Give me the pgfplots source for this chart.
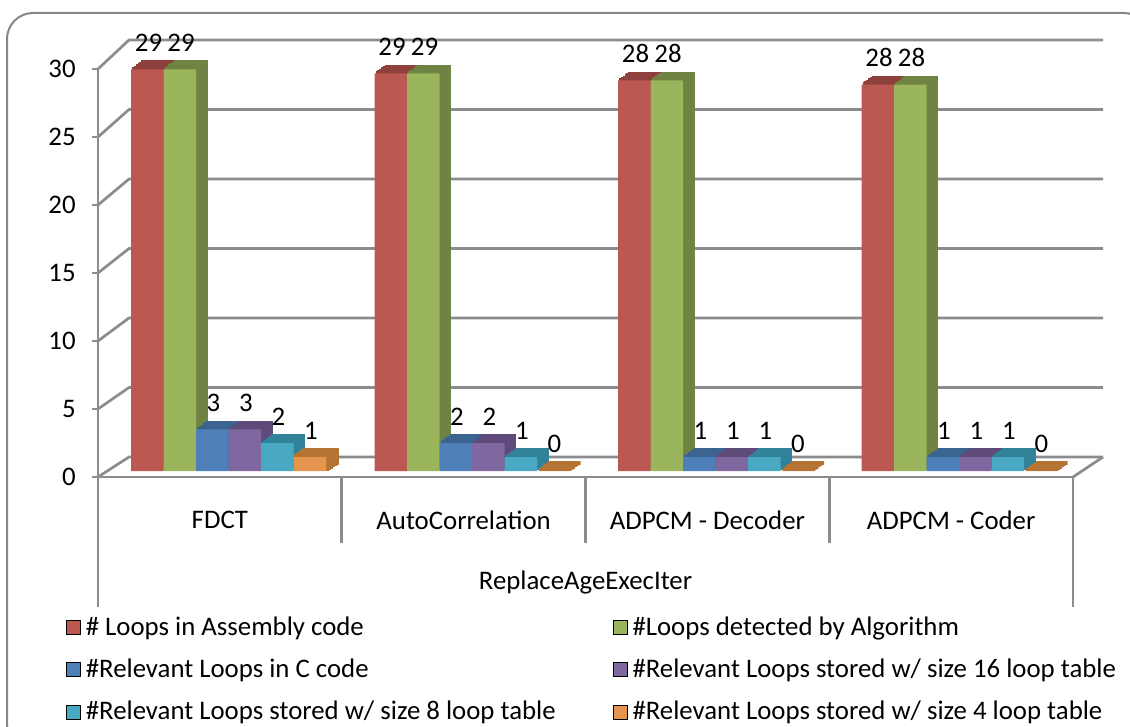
\documentclass[border=0pt]{standalone}
\usepackage{pgfplots}
\pgfplotsset{compat=1.18}
\usepackage{pgfplotstable}
\usepackage{fontspec}
\setmainfont{Carlito}
\definecolor{gridc}{RGB}{140,140,140}
\definecolor{borderc}{RGB}{134,134,134}
\definecolor{cRed}{HTML}{BC5852}
\definecolor{cRedD}{HTML}{8E403C}
\definecolor{cGreen}{HTML}{9AB55C}
\definecolor{cGreenD}{HTML}{6F8343}
\definecolor{cBlue}{HTML}{4E7FB8}
\definecolor{cBlueD}{HTML}{3C6491}
\definecolor{cPurple}{HTML}{7F67A0}
\definecolor{cPurpleD}{HTML}{5E4B7A}
\definecolor{cCyan}{HTML}{4AA9C2}
\definecolor{cCyanD}{HTML}{32829A}
\definecolor{cOrange}{HTML}{E6954F}
\definecolor{cOrangeD}{HTML}{B67434}
\newcommand\fs{\fontsize{13.4}{16}\selectfont}
\pgfplotstableread{
x a b c d e f
0 28.9 28.9 3 3 2 1
1 28.6 28.6 2 2 1 0
2 28.1 28.1 1 1 1 0
3 27.8 27.8 1 1 1 0
}\datatable
\pgfplotsset{
  sq legend/.style={legend image code/.code={\fill[##1] (0pt,-3.5pt) rectangle (7pt,3.5pt);}},
  shadow/.style={ybar, bar width=16.25pt, line width=0.8pt, forget plot},
  front/.style={ybar, bar width=16.25pt, draw=none, forget plot,
    nodes near coords={\pgfmathprintnumber[fixed,precision=0,assume math mode=true]{\pgfplotspointmeta}},
    every node near coord/.append style={font=\fs, yshift=5.5pt, text=black}},
}
\begin{document}
\begin{tikzpicture}
\begin{scope}[x=0.5pt,y=-0.5pt]
  \useasboundingbox (0,0) rectangle (1130,727);
  \begin{scope}
    \clip (0,0) rectangle (1130,727);
    \draw[line width=1pt, borderc, rounded corners=13pt] (7,13) rectangle (1150,750);
  \end{scope}
  \foreach \v in {0,5,...,30}{
    \pgfmathsetmacro\yb{457-13.9*\v}
    \pgfmathsetmacro\yf{477-13.6*\v}
    \draw[gridc, line width=1.35pt] (98,\yf) -- (129,\yb) -- (1103,\yb);
  }
  \draw[gridc, line width=1.35pt] (1073,477) -- (1103,457);
  \draw[gridc, line width=1.35pt] (98,477) -- (98,607);
  \draw[gridc, line width=1.35pt] (1073,477) -- (1073,607);
  \foreach \x in {341.75,585.5,829.25} \draw[gridc, line width=1.35pt] (\x,477) -- (\x,543);
\end{scope}

% front plane: y ticks, categories
\begin{axis}[
  at={(49pt,-238.5pt)}, anchor=south west,
  scale only axis, width=487.5pt, height=204pt,
  xmin=-0.5, xmax=3.5, ymin=0, ymax=30,
  axis x line*=bottom, axis y line*=left,
  axis line style={draw=gridc, line width=1.35pt},
  ytick={0,5,...,30}, xtick={0,1,2,3},
  xticklabels={FDCT,AutoCorrelation,ADPCM - Decoder,ADPCM - Coder},
  tick align=outside, major tick length=3pt,
  xtick style={draw=none},
  ytick style={draw=gridc, line width=1.35pt},
  /pgf/number format/assume math mode=true,
  yticklabel style={font=\fs, anchor=east, inner sep=0pt, xshift=-8pt},
  xticklabel style={font=\fs, anchor=center, yshift=-18.5pt},
  xlabel={ReplaceAgeExecIter},
  xlabel style={font=\fs, at={(axis description cs:0.5,0)}, anchor=center, yshift=-52.5pt},
]
\end{axis}

% bars
\begin{axis}[
  at={(53.375pt,-235.5pt)}, anchor=south west,
  scale only axis, width=487pt, height=208.5pt,
  xmin=-0.5, xmax=3.5, ymin=0, ymax=30,
  hide axis, clip=false,
  legend columns=2,
  legend cell align=left,
  legend style={at={(axis description cs:-0.0418,-0.345)}, anchor=north west,
    draw=none, fill=none, font=\fs, inner sep=0pt, outer sep=0pt,
    row sep=8.3pt, nodes={inner sep=1pt},
    /tikz/every odd column/.append style={column sep=1.5pt},
    /tikz/every even column/.append style={column sep=27.5pt}},
]
% red
\pgfplotsinvokeforeach{1,2,3,4,5,6}{
  \addplot[shadow, bar shift=-40.625pt, fill=cRedD, draw=cRedD, xshift=#1*0.9167pt, yshift=#1*0.6667pt] table[x=x,y=a]{\datatable};
}
\addplot[front, bar shift=-40.625pt, fill=cRed, every node near coord/.append style={xshift=-40pt}] table[x=x,y=a]{\datatable};
% green
\pgfplotsinvokeforeach{1,2,3,4,5,6}{
  \addplot[shadow, bar shift=-24.375pt, fill=cGreenD, draw=cGreenD, xshift=#1*0.9167pt, yshift=#1*0.6667pt] table[x=x,y=b]{\datatable};
}
\addplot[front, bar shift=-24.375pt, fill=cGreen, every node near coord/.append style={xshift=-23.75pt}] table[x=x,y=b]{\datatable};
% blue
\pgfplotsinvokeforeach{1,2,3,4,5,6}{
  \addplot[shadow, bar shift=-8.125pt, fill=cBlueD, draw=cBlueD, xshift=#1*0.9167pt, yshift=#1*0.6667pt] table[x=x,y=c]{\datatable};
}
\addplot[front, bar shift=-8.125pt, fill=cBlue, every node near coord/.append style={xshift=-7.5pt}] table[x=x,y=c]{\datatable};
% purple
\pgfplotsinvokeforeach{1,2,3,4,5,6}{
  \addplot[shadow, bar shift=8.125pt, fill=cPurpleD, draw=cPurpleD, xshift=#1*0.9167pt, yshift=#1*0.6667pt] table[x=x,y=d]{\datatable};
}
\addplot[front, bar shift=8.125pt, fill=cPurple, every node near coord/.append style={xshift=8.75pt}] table[x=x,y=d]{\datatable};
% cyan
\pgfplotsinvokeforeach{1,2,3,4,5,6}{
  \addplot[shadow, bar shift=24.375pt, fill=cCyanD, draw=cCyanD, xshift=#1*0.9167pt, yshift=#1*0.6667pt] table[x=x,y=e]{\datatable};
}
\addplot[front, bar shift=24.375pt, fill=cCyan, every node near coord/.append style={xshift=25pt}] table[x=x,y=e]{\datatable};
% orange
\pgfplotsinvokeforeach{1,2,3,4,5,6}{
  \addplot[shadow, bar shift=40.625pt, fill=cOrangeD, draw=cOrangeD, line width=1.6pt, xshift=#1*0.9167pt, yshift=#1*0.6667pt] table[x=x,y=f]{\datatable};
}
\addplot[front, bar shift=40.625pt, fill=cOrange, every node near coord/.append style={xshift=41.25pt}] table[x=x,y=f]{\datatable};

\addlegendimage{sq legend, fill=cRed}
\addlegendentry{\# Loops in Assembly code}
\addlegendimage{sq legend, fill=cGreen}
\addlegendentry{\#Loops detected by Algorithm}
\addlegendimage{sq legend, fill=cBlue}
\addlegendentry{\#Relevant Loops in C code}
\addlegendimage{sq legend, fill=cPurple}
\addlegendentry{\#Relevant Loops stored w/ size 16 loop table}
\addlegendimage{sq legend, fill=cCyan}
\addlegendentry{\#Relevant Loops stored w/ size 8 loop table}
\addlegendimage{sq legend, fill=cOrange}
\addlegendentry{\#Relevant Loops stored w/ size 4 loop table}
\end{axis}
\end{tikzpicture}
\end{document}
